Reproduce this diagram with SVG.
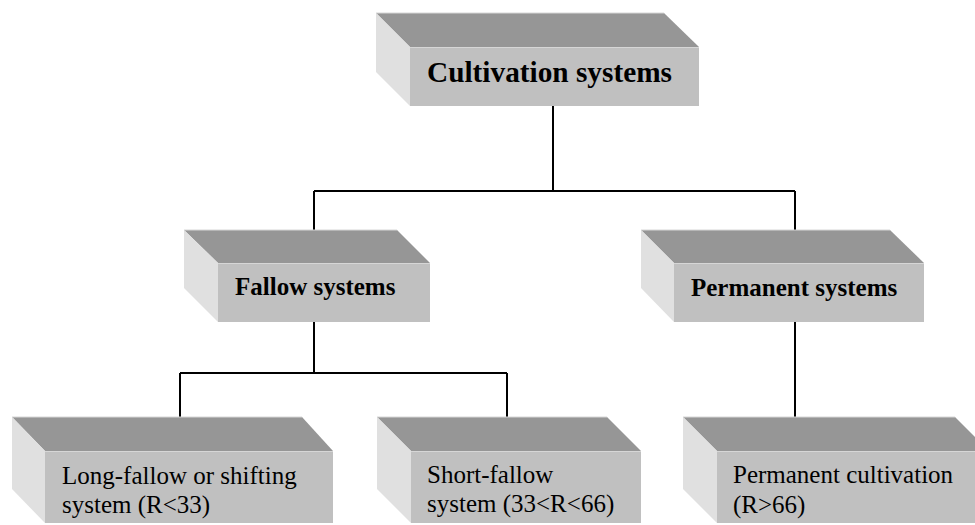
<svg xmlns="http://www.w3.org/2000/svg" width="975" height="525" viewBox="0 0 975 525">
<style>
.top{fill:#969696}
.side{fill:#e0e0e0}
.front{fill:#c0c0c0}
.edge{fill:none;stroke:#d6d6d6;stroke-width:1}
.b{font-family:"Liberation Serif","Times New Roman",serif;font-weight:bold;fill:#000}
.r{font-family:"Liberation Serif","Times New Roman",serif;font-size:25px;fill:#000}
.conn{fill:none;stroke:#000;stroke-width:2}
</style>
<rect width="975" height="525" fill="#fff"/>
<g id="connectors">
<path class="conn" d="M553,106V191M314,191H795M314,191V230M795,191V230"/>
<path class="conn" d="M314,322V373M180,373H507M180,373V417M507,373V417"/>
<path class="conn" d="M795,322V417"/>
</g>
<g id="cultivation-systems">
<polygon class="top" points="376,13 664,13 699,47 410,47"/>
<polygon class="side" points="376,13 410,47 410,106 376,72"/>
<rect class="front" x="410" y="47" width="289" height="59"/>
<path class="edge" d="M376,13H664M410,47.5H699"/>
<text class="b" x="427" y="82" font-size="29.3">Cultivation systems</text>
</g>
<g id="fallow-systems">
<polygon class="top" points="184,230 397,230 430,263 218,263"/>
<polygon class="side" points="184,230 218,263 218,322 184,288"/>
<rect class="front" x="218" y="263" width="212" height="59"/>
<path class="edge" d="M184,230H397M218,263.5H430"/>
<text class="b" x="235" y="295" font-size="25">Fallow systems</text>
</g>
<g id="permanent-systems">
<polygon class="top" points="641,230 890,230 924,263 674,263"/>
<polygon class="side" points="641,230 674,263 674,322 641,288"/>
<rect class="front" x="674" y="263" width="250" height="59"/>
<path class="edge" d="M641,230H890M674,263.5H924"/>
<text class="b" x="691" y="296" font-size="25">Permanent systems</text>
</g>
<g id="long-fallow">
<polygon class="top" points="12,417 302,417 333,451 45,451"/>
<polygon class="side" points="12,417 45,451 45,523 12,489"/>
<rect class="front" x="45" y="451" width="288" height="72"/>
<path class="edge" d="M12,417H302M45,451.5H333"/>
<text class="r" x="62" y="484">Long-fallow or shifting</text>
<text class="r" x="62" y="513">system (R&lt;33)</text>
</g>
<g id="short-fallow">
<polygon class="top" points="377,417 607,417 641,451 411,451"/>
<polygon class="side" points="377,417 411,451 411,523 377,489"/>
<rect class="front" x="411" y="451" width="230" height="72"/>
<path class="edge" d="M377,417H607M411,451.5H641"/>
<text class="r" x="427" y="483">Short-fallow</text>
<text class="r" x="427" y="512">system (33&lt;R&lt;66)</text>
</g>
<g id="permanent-cultivation">
<polygon class="top" points="683,417 955,417 989,451 717,451"/>
<polygon class="side" points="683,417 717,451 717,523 683,489"/>
<rect class="front" x="717" y="451" width="272" height="72"/>
<path class="edge" d="M683,417H955M717,451.5H989"/>
<text class="r" x="733" y="483">Permanent cultivation</text>
<text class="r" x="733" y="513">(R&gt;66)</text>
</g>
</svg>
